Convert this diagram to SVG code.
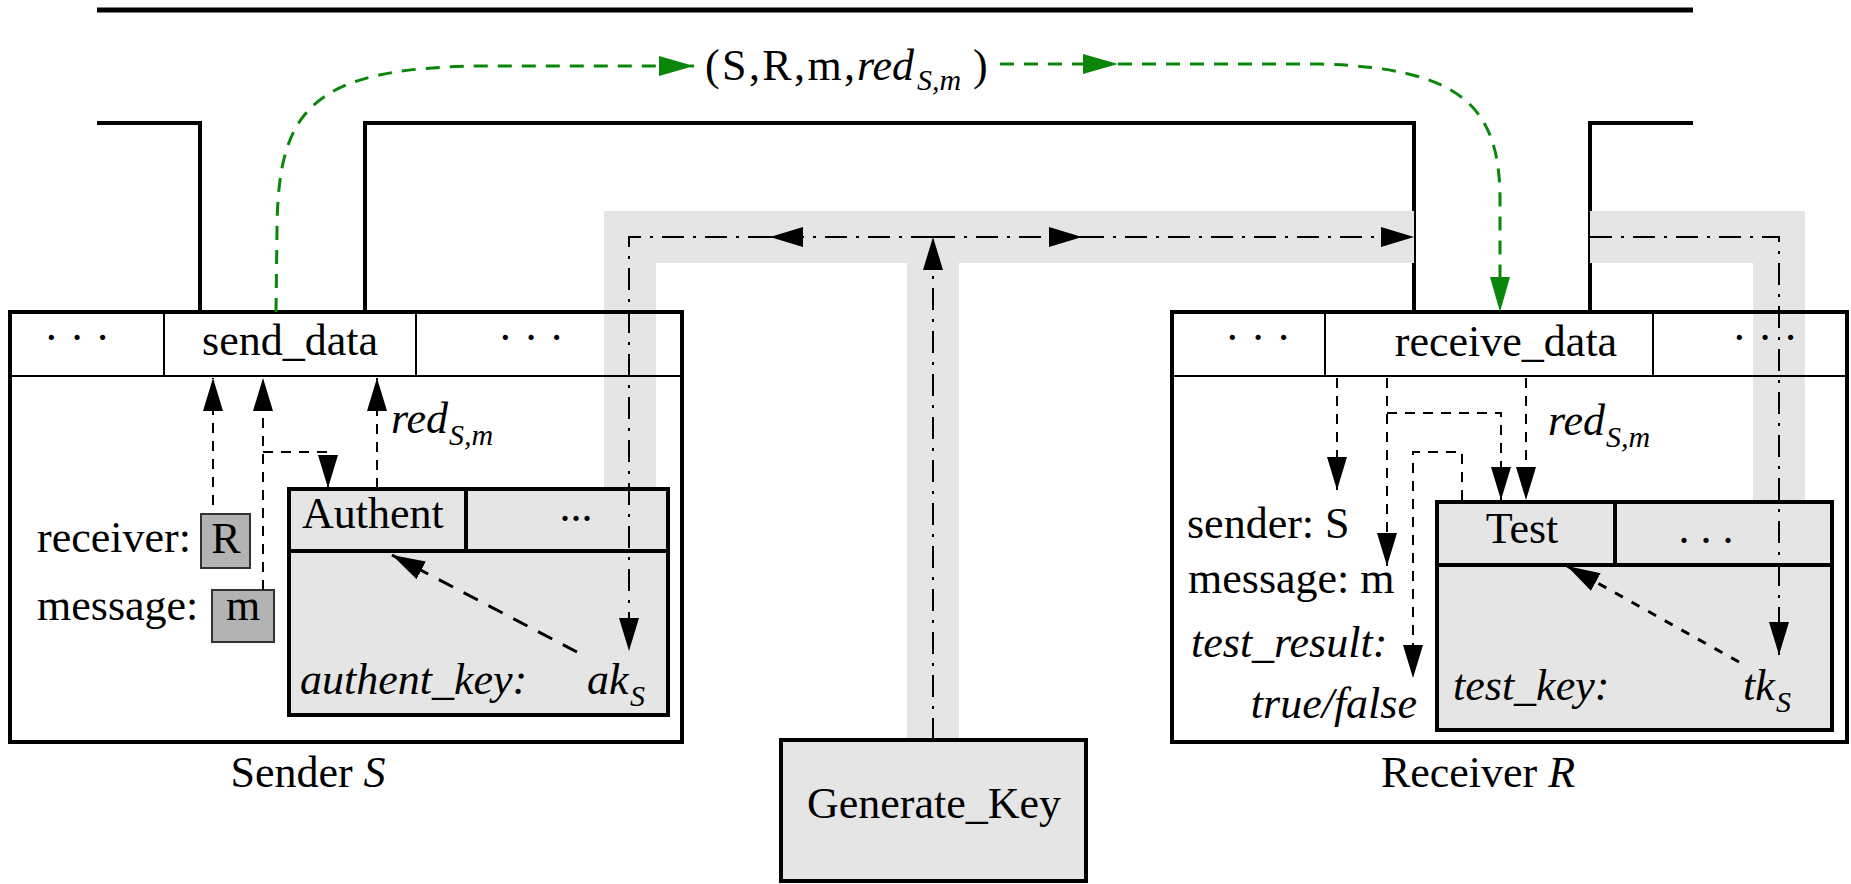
<svg xmlns="http://www.w3.org/2000/svg" width="1851" height="884" viewBox="0 0 1851 884">
<style>
  text { font-family: "Liberation Serif", "Times New Roman", serif; font-size: 44px; fill: #000; }
  .it { font-style: italic; }
  .sub { font-style: italic; font-size: 30px; }
  .frame { stroke: #000; fill: none; }
  .band { stroke: #e5e5e5; stroke-width: 52; fill: none; stroke-linejoin: miter; }
  .box { fill: none; stroke: #000; stroke-width: 4; }
  .thin { stroke: #000; stroke-width: 2; fill: none; }
  .inner { fill: #e5e5e5; stroke: #000; stroke-width: 4; }
  .val { fill: #b3b3b3; stroke: #333; stroke-width: 2; }
  .gk { fill: #e5e5e5; stroke: #000; stroke-width: 4; }
  .dd { stroke: #000; stroke-width: 2; fill: none; stroke-dasharray: 22 9 3 9; }
  .da { stroke: #000; stroke-width: 2; fill: none; stroke-dasharray: 10 8; }
  .diag { stroke: #000; stroke-width: 3; fill: none; stroke-dasharray: 16 12; }
  .diag2 { stroke: #000; stroke-width: 3; fill: none; stroke-dasharray: 9 10; }
  .gr { stroke: #0a870a; stroke-width: 3; fill: none; stroke-dasharray: 14 10; }
</style>
<defs>
  <marker id="ah" viewBox="0 0 33 20" refX="33" refY="10" markerWidth="33" markerHeight="20" markerUnits="userSpaceOnUse" orient="auto">
    <path d="M0,0 L33,10 L0,20 z" fill="#000"/>
  </marker>
  <marker id="ahg" viewBox="0 0 35 20" refX="35" refY="10" markerWidth="35" markerHeight="20" markerUnits="userSpaceOnUse" orient="auto">
    <path d="M0,0 L35,10 L0,20 z" fill="#0a870a"/>
  </marker>
</defs>

<g id="frame">
  <line class="frame" x1="97" y1="10" x2="1693" y2="10" stroke-width="5"/>
  <path class="frame" d="M97,123 H200 V312" stroke-width="4"/>
  <path class="frame" d="M365,312 V123 H1414 V312" stroke-width="4"/>
  <path class="frame" d="M1590,312 V123 H1693" stroke-width="4"/>
</g>

<g id="band">
  <path class="band" d="M630,490 V237 H1414"/>
  <path class="band" d="M1590,237 H1779 V502"/>
  <path class="band" d="M933,740 V263"/>
</g>

<g id="sender">
  <rect class="box" x="10" y="312" width="672" height="430"/>
  <line class="thin" x1="10" y1="376" x2="682" y2="376"/>
  <line class="thin" x1="164" y1="312" x2="164" y2="376"/>
  <line class="thin" x1="416" y1="312" x2="416" y2="376"/>
  <text x="77" y="352" text-anchor="middle">· · ·</text>
  <text x="290" y="355" text-anchor="middle">send_data</text>
  <text x="531" y="352" text-anchor="middle">· · ·</text>
  <text x="37" y="552">receiver:</text>
  <text x="37" y="620">message:</text>
  <text x="308" y="787" text-anchor="middle">Sender <tspan class="it">S</tspan></text>
</g>
<g id="receiver-value">
  <rect class="val" x="201" y="514" width="49" height="54"/>
  <text x="226" y="553" text-anchor="middle">R</text>
</g>
<g id="message-value">
  <rect class="val" x="212" y="590" width="62" height="52"/>
  <text x="243" y="620" text-anchor="middle">m</text>
</g>
<g id="authent">
  <rect class="inner" x="289" y="489" width="379" height="226"/>
  <line class="box" x1="289" y1="551" x2="668" y2="551"/>
  <line class="box" x1="466" y1="489" x2="466" y2="551"/>
  <text x="302" y="528">Authent</text>
  <text x="576" y="521" text-anchor="middle">...</text>
  <text class="it" x="300" y="694">authent_key:</text>
  <text class="it" x="587" y="694">ak</text>
  <text class="sub" x="630" y="706">S</text>
</g>

<g id="receiver">
  <rect class="box" x="1172" y="312" width="675" height="430"/>
  <line class="thin" x1="1172" y1="376" x2="1847" y2="376"/>
  <line class="thin" x1="1325" y1="312" x2="1325" y2="376"/>
  <line class="thin" x1="1653" y1="312" x2="1653" y2="376"/>
  <text x="1258" y="352" text-anchor="middle">· · ·</text>
  <text x="1506" y="356" text-anchor="middle">receive_data</text>
  <text x="1765" y="352" text-anchor="middle">· · ·</text>
  <text x="1187" y="538">sender: S</text>
  <text x="1188" y="593">message: m</text>
  <text class="it" x="1191" y="657">test_result:</text>
  <text class="it" x="1417" y="718" text-anchor="end">true/false</text>
  <text x="1478" y="787" text-anchor="middle">Receiver <tspan class="it">R</tspan></text>
</g>
<g id="test">
  <rect class="inner" x="1437" y="502" width="395" height="228"/>
  <line class="box" x1="1437" y1="565" x2="1832" y2="565"/>
  <line class="box" x1="1615" y1="502" x2="1615" y2="565"/>
  <text x="1522" y="543" text-anchor="middle">Test</text>
  <text x="1706" y="543" text-anchor="middle">. . .</text>
  <text class="it" x="1453" y="700">test_key:</text>
  <text class="it" x="1743" y="700">tk</text>
  <text class="sub" x="1776" y="712">S</text>
</g>

<g id="generate-key">
  <rect class="gk" x="781" y="740" width="305" height="141"/>
  <text x="934" y="818" text-anchor="middle">Generate_Key</text>
</g>

<g id="message-label">
  <text x="705" y="80" textLength="150" lengthAdjust="spacing">(S,R,m,</text>
  <text class="it" x="857" y="80">red</text>
  <text class="sub" x="917" y="90">S,m</text>
  <text x="973" y="80">)</text>
</g>

<g id="connectors">
  <!-- key distribution -->
  <path class="dd" d="M933,740 V237" marker-end="url(#ah)"/>
  <path class="dd" d="M933,237 H770" marker-end="url(#ah)"/>
  <path class="dd" d="M770,237 H629 V651" marker-end="url(#ah)"/>
  <path class="dd" d="M933,237 H1082" marker-end="url(#ah)"/>
  <path class="dd" d="M1082,237 H1414" marker-end="url(#ah)"/>
  <path class="dd" d="M1590,237 H1779 V655" marker-end="url(#ah)"/>

  <!-- green message transfer -->
  <path class="gr" d="M276,312 L277,230 C278,110 310,68 480,66 H694" marker-end="url(#ahg)"/>
  <path class="gr" d="M1000,64 H1118" marker-end="url(#ahg)"/>
  <path class="gr" d="M1118,64 H1320 C1460,68 1500,105 1500,200 V312" marker-end="url(#ahg)"/>

  <!-- sender internals -->
  <path class="da" d="M213,505 V378" marker-end="url(#ah)"/>
  <path class="da" d="M263,590 V378" marker-end="url(#ah)"/>
  <path class="da" d="M263,452 H328 V488" marker-end="url(#ah)"/>
  <path class="da" d="M377,488 V378" marker-end="url(#ah)"/>
  <text class="it" x="391" y="433">red</text>
  <text class="sub" x="449" y="445">S,m</text>
  <path class="diag" d="M577,652 L392,555" marker-end="url(#ah)"/>

  <!-- receiver internals -->
  <path class="da" d="M1337,378 V490" marker-end="url(#ah)"/>
  <path class="da" d="M1387,378 V566" marker-end="url(#ah)"/>
  <path class="da" d="M1387,413 H1501 V500" marker-end="url(#ah)"/>
  <path class="da" d="M1526,378 V500" marker-end="url(#ah)"/>
  <path class="da" d="M1462,500 V452 H1413 V678" marker-end="url(#ah)"/>
  <text class="it" x="1548" y="435">red</text>
  <text class="sub" x="1606" y="447">S,m</text>
  <path class="diag2" d="M1739,662 L1567,566" marker-end="url(#ah)"/>
</g>
</svg>
